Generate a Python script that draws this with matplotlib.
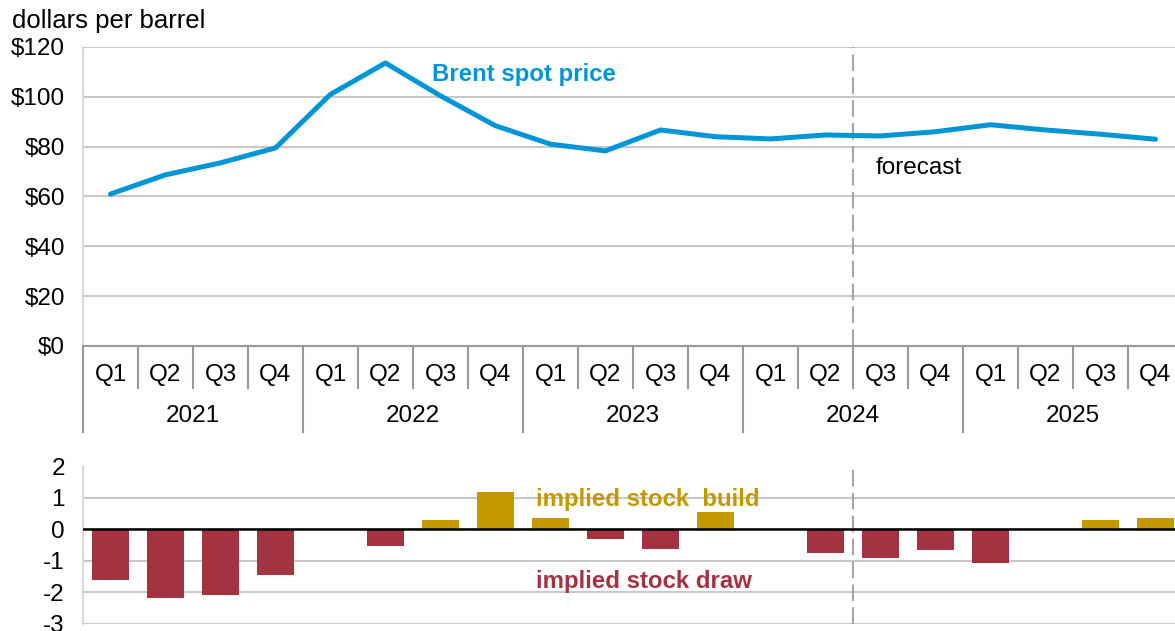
import matplotlib
matplotlib.use("Agg")
import matplotlib.pyplot as plt
import numpy as np

plt.rcParams['font.family'] = ['Liberation Sans', 'DejaVu Sans']
plt.rcParams['axes.unicode_minus'] = False

quarters = ['Q1', 'Q2', 'Q3', 'Q4'] * 5
years = ['2021', '2022', '2023', '2024', '2025']

# Brent spot price, dollars per barrel
brent = [61, 68.7, 73.5, 79.5, 101, 113.6, 100.4, 88.4, 81, 78.3,
         86.7, 84, 83.1, 84.7, 84.3, 86, 88.8, 86.7, 85, 83]

# implied global stock change, million barrels per day
stock_change = [-1.6, -2.2, -2.1, -1.47, 0, -0.53, 0.29, 1.18, 0.36, -0.32,
                -0.62, 0.56, 0, -0.74, -0.9, -0.66, -1.06, 0, 0.29, 0.36]

blue = '#0096D6'
gold = '#C49800'
red = '#A33341'
grid_c = '#C8C8C8'
dash_c = '#A6A6A6'
fs = 17.5

W, H = 1175, 631
fig = plt.figure(figsize=(W / 100, H / 100), dpi=100)

x = np.arange(len(brent))
forecast_x = 13.5

# ---- top panel: price line
ax = fig.add_axes([83 / W, 1 - 346 / H, 1100 / W, 299 / H])
ax.plot(x, brent, color=blue, lw=3.6, solid_capstyle='round', zorder=3)
ax.set_xlim(-0.5, 19.5)
ax.set_ylim(0, 120)
ax.set_yticks(range(0, 121, 20))
ax.set_yticklabels(['$%d' % v for v in range(0, 121, 20)])
ax.yaxis.grid(True, color=grid_c, lw=1.5)
ax.set_axisbelow(True)
ax.tick_params(axis='y', length=0, pad=13, labelsize=fs)
ax.tick_params(axis='x', length=0, labelbottom=False)
for s in ['top', 'right']:
    ax.spines[s].set_visible(False)
ax.spines['left'].set_color('#D9D9D9')
ax.spines['left'].set_linewidth(1.5)
ax.spines['bottom'].set_color('#999999')
ax.spines['bottom'].set_linewidth(1.5)
ax.axvline(forecast_x, color=dash_c, lw=1.5, ls=(0, (8, 3)), zorder=2)

# category axis: quarters and years
tr = ax.get_xaxis_transform()
for i, q in enumerate(quarters):
    ax.text(i, -0.097, q, transform=tr, ha='center', va='center', fontsize=fs)
    if i % 4:
        ax.plot([i - 0.5, i - 0.5], [0, -0.14], transform=tr, color='#999999',
                lw=1.5, clip_on=False)
for j, yr in enumerate(years):
    ax.text(j * 4 + 1.5, -0.234, yr, transform=tr, ha='center', va='center', fontsize=fs)
    ax.plot([j * 4 - 0.5, j * 4 - 0.5], [0, -0.288], transform=tr, color='#999999',
            lw=1.5, clip_on=False)

ax.text(5.85, 108.8, 'Brent spot price', color=blue, fontsize=17.3, fontweight='bold',
        ha='left', va='center')
ax.text(13.92, 71.5, 'forecast', fontsize=fs, ha='left', va='center')

fig.text(12 / W, 1 - 21 / H, 'dollars per barrel', fontsize=18.5, ha='left', va='center')

# ---- bottom panel: implied stock change
bx = fig.add_axes([83 / W, 1 - 623.5 / H, 1100 / W, 157 / H])
colors = [gold if v > 0 else red for v in stock_change]
bx.bar(x, stock_change, width=0.67, color=colors, zorder=3)
bx.axhline(0, color='black', lw=1.8, zorder=4)
bx.set_xlim(-0.5, 19.5)
bx.set_ylim(-3, 2)
bx.set_yticks(range(-3, 3))
bx.yaxis.grid(True, color=grid_c, lw=1.5)
bx.set_axisbelow(True)
bx.tick_params(axis='y', length=0, pad=13, labelsize=fs)
bx.tick_params(axis='x', length=0, labelbottom=False)
for s in ['top', 'right', 'bottom']:
    bx.spines[s].set_visible(False)
bx.spines['left'].set_color('#D9D9D9')
bx.spines['left'].set_linewidth(1.5)
bx.axvline(forecast_x, color=dash_c, lw=1.5, ls=(0, (8, 3)), zorder=2)

bx.text(7.74, 0.96, 'implied stock  build', color=gold, fontsize=17.3, fontweight='bold',
        ha='left', va='center')
bx.text(7.74, -1.67, 'implied stock draw', color=red, fontsize=17.3, fontweight='bold',
        ha='left', va='center')

fig.savefig('out.png', dpi=100)
